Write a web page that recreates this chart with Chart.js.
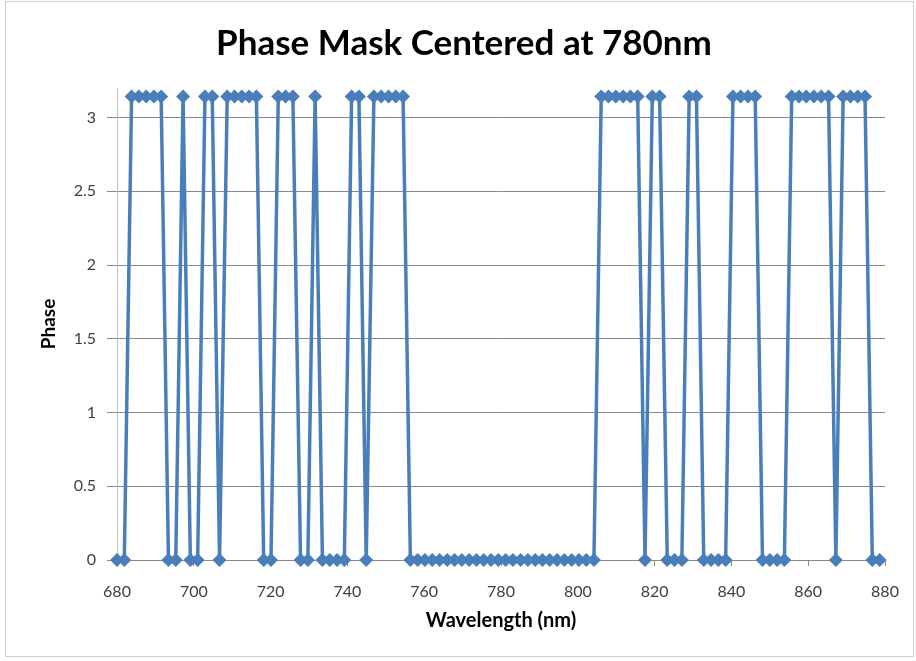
<!DOCTYPE html>
<html>
<head>
<meta charset="utf-8">
<script src="https://cdn.jsdelivr.net/npm/chart.js@4.4.1/dist/chart.umd.min.js"></script>
<style>
  html, body { margin: 0; padding: 0; background: #ffffff; }
  #wrap { width: 916px; height: 661px; }
</style>
</head>
<body>
<div id="wrap"><canvas id="chart" width="916" height="661"></canvas></div>
<script>
// Sample wavelengths (nm) of the mask
const wavelengthNm = [
  680.0, 681.9, 683.8, 685.7, 687.6, 689.6, 691.5, 693.4, 695.3, 697.2,
  699.1, 701.0, 702.9, 704.8, 706.7, 708.7, 710.6, 712.5, 714.4, 716.3,
  718.2, 720.1, 722.0, 723.9, 725.8, 727.8, 729.7, 731.6, 733.5, 735.4,
  737.3, 739.2, 741.1, 743.0, 744.9, 746.9, 748.8, 750.7, 752.6, 754.5,
  756.4, 758.3, 760.2, 762.1, 764.0, 766.0, 767.9, 769.8, 771.7, 773.6,
  775.5, 777.4, 779.3, 781.2, 783.1, 785.1, 787.0, 788.9, 790.8, 792.7,
  794.6, 796.5, 798.4, 800.3, 802.2, 804.2, 806.1, 808.0, 809.9, 811.8,
  813.7, 815.6, 817.5, 819.4, 821.3, 823.3, 825.2, 827.1, 829.0, 830.9,
  832.8, 834.7, 836.6, 838.5, 840.4, 842.4, 844.3, 846.2, 848.1, 850.0,
  851.9, 853.8, 855.7, 857.6, 859.5, 861.5, 863.4, 865.3, 867.2, 869.1,
  871.0, 872.9, 874.8, 876.7, 878.6
];

// Phase (rad) applied at each wavelength: 0 or pi
const phaseRad = [
  0, 0, 3.1416, 3.1416, 3.1416, 3.1416, 3.1416, 0, 0, 3.1416,
  0, 0, 3.1416, 3.1416, 0, 3.1416, 3.1416, 3.1416, 3.1416, 3.1416,
  0, 0, 3.1416, 3.1416, 3.1416, 0, 0, 3.1416, 0, 0,
  0, 0, 3.1416, 3.1416, 0, 3.1416, 3.1416, 3.1416, 3.1416, 3.1416,
  0, 0, 0, 0, 0, 0, 0, 0, 0, 0,
  0, 0, 0, 0, 0, 0, 0, 0, 0, 0,
  0, 0, 0, 0, 0, 0, 3.1416, 3.1416, 3.1416, 3.1416,
  3.1416, 3.1416, 0, 3.1416, 3.1416, 0, 0, 0, 3.1416, 3.1416,
  0, 0, 0, 0, 3.1416, 3.1416, 3.1416, 3.1416, 0, 0,
  0, 0, 3.1416, 3.1416, 3.1416, 3.1416, 3.1416, 3.1416, 0, 3.1416,
  3.1416, 3.1416, 3.1416, 0, 0
];

// Axis tick values
const xTicks = [680, 700, 720, 740, 760, 780, 800, 820, 840, 860, 880];
const yTicks = [0, 0.5, 1, 1.5, 2, 2.5, 3];

const points = wavelengthNm.map((w, i) => ({ x: w, y: phaseRad[i] }));

const seriesBlue = '#4a7ebb';
const gridGray = '#8a8a8a';
const labelGray = '#404040';
const fontFamily = 'Lato, "Open Sans", "Liberation Sans", sans-serif';

// Light outer frame around the whole chart
const framePlugin = {
  id: 'frame',
  afterDraw(chart) {
    const ctx = chart.ctx;
    ctx.save();
    ctx.strokeStyle = '#d0d0d0';
    ctx.lineWidth = 1;
    ctx.strokeRect(5.5, 1.5, 908, 655);
    ctx.restore();
  }
};

const bgPlugin = {
  id: 'bg',
  beforeDraw(chart) {
    const ctx = chart.ctx;
    ctx.save();
    ctx.fillStyle = '#ffffff';
    ctx.fillRect(0, 0, chart.width, chart.height);
    ctx.restore();
  }
};

new Chart(document.getElementById('chart'), {
  type: 'line',
  data: {
    datasets: [{
      label: 'Phase',
      data: points,
      borderColor: seriesBlue,
      backgroundColor: seriesBlue,
      borderWidth: 3.5,
      pointStyle: 'rectRot',
      pointRadius: 7,
      pointBorderWidth: 0,
      pointBackgroundColor: seriesBlue,
      tension: 0,
      clip: false
    }]
  },
  plugins: [bgPlugin, framePlugin],
  options: {
    responsive: false,
    animation: false,
    devicePixelRatio: 1,
    layout: { padding: { left: 12, right: 0, top: 0, bottom: 0 } },
    plugins: {
      legend: { display: false },
      tooltip: { enabled: false },
      title: {
        display: true,
        text: 'Phase Mask Centered at 780nm',
        color: '#000000',
        font: { family: fontFamily, size: 35, weight: 'bold' },
        padding: { top: 23, bottom: 23 }
      }
    },
    scales: {
      x: {
        type: 'linear',
        min: 680,
        max: 880,
        afterBuildTicks(scale) { scale.ticks = xTicks.map(v => ({ value: v })); },
        afterFit(scale) { scale.height = 101; },
        grid: { drawOnChartArea: false, drawTicks: true, tickLength: 6, color: gridGray },
        border: { display: true, color: gridGray, width: 1 },
        ticks: {
          color: labelGray,
          font: { family: fontFamily, size: 16 },
          padding: 16,
          maxRotation: 0,
          callback: v => String(v)
        },
        title: {
          display: true,
          text: 'Wavelength (nm)',
          color: '#000000',
          font: { family: fontFamily, size: 20, weight: 'bold' },
          padding: { top: 0, bottom: 28 }
        }
      },
      y: {
        type: 'linear',
        min: 0,
        max: 3.2,
        afterBuildTicks(scale) { scale.ticks = yTicks.map(v => ({ value: v })); },
        afterFit(scale) { scale.width = 105; },
        grid: { drawOnChartArea: true, drawTicks: true, tickLength: 10, color: gridGray },
        border: { display: true, color: '#bfbfbf', width: 1 },
        ticks: {
          color: labelGray,
          font: { family: fontFamily, size: 16 },
          padding: 11,
          callback: v => String(v)
        },
        title: {
          display: true,
          text: 'Phase',
          color: '#000000',
          font: { family: fontFamily, size: 19, weight: 'bold' },
          padding: { top: 25, bottom: 0 }
        }
      },
      // empty margin strip on the right of the plot
      yRight: {
        type: 'linear',
        position: 'right',
        min: 0,
        max: 3.2,
        afterFit(scale) { scale.width = 31; },
        grid: { display: false },
        border: { display: false },
        ticks: { display: false }
      }
    }
  }
});
</script>
</body>
</html>
